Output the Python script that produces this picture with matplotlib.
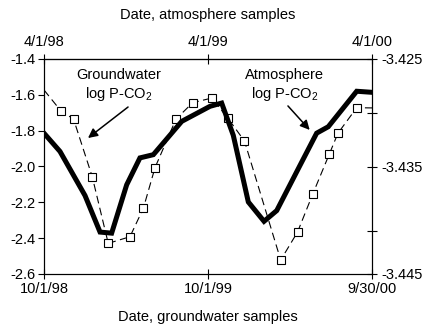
import matplotlib
matplotlib.use("Agg")
import matplotlib.pyplot as plt

plt.rcParams['font.family'] = ['Liberation Sans', 'DejaVu Sans']
plt.rcParams['mathtext.fontset'] = 'custom'
plt.rcParams['mathtext.rm'] = 'Liberation Sans'
plt.rcParams['mathtext.it'] = 'Liberation Sans:italic'

# Groundwater log P-CO2 (left axis); x = months after 10/1/98
gw_month = [0.0, 1.24, 2.16, 3.53, 4.70, 6.29, 7.27, 8.12, 9.66, 10.88, 12.27,
            13.46, 14.67, 17.32, 18.55, 19.68, 20.88, 21.51, 22.88, 24.0]
gw_value = [-1.573, -1.690, -1.735, -2.057, -2.429, -2.392, -2.233, -2.007, -1.735,
            -1.644, -1.618, -1.731, -1.858, -2.522, -2.366, -2.151, -1.930, -1.814,
            -1.672, -1.673]
gw_marked = list(range(1, len(gw_month) - 1))

# Atmosphere log P-CO2 (right axis)
at_month = [0.0, 1.17, 3.0, 4.10, 4.95, 6.05, 7.02, 8.0, 10.08, 12.15, 13.0,
            13.85, 14.95, 16.1, 17.03, 18.73, 19.95, 20.80, 22.88, 24.0]
at_value = [-3.4319, -3.4336, -3.4377, -3.4411, -3.4412, -3.4367, -3.4342, -3.4339,
            -3.4308, -3.4294, -3.4291, -3.4321, -3.4383, -3.4401, -3.4391, -3.4349,
            -3.4319, -3.4313, -3.4280, -3.4281]

bottom_ticks = [0, 12, 24]
bottom_labels = ['10/1/98', '10/1/99', '9/30/00']
top_labels = ['4/1/98', '4/1/99', '4/1/00']
left_ticks = [-1.4, -1.6, -1.8, -2.0, -2.2, -2.4, -2.6]
right_ticks = [-3.425, -3.430, -3.435, -3.441, -3.445]
right_labels = ['-3.425', '', '-3.435', '', '-3.445']

FS = 10.5
fig = plt.figure(figsize=(4.26, 3.28), dpi=100)
ax = fig.add_axes([44/426, 1-274/328, (372-44)/426, (274-59)/328])
ax.plot(gw_month, gw_value, color='black', lw=0.8, linestyle=(0, (7, 4)),
        marker='s', markevery=gw_marked, markersize=5.6, markerfacecolor='white',
        markeredgecolor='black', markeredgewidth=0.8, zorder=3)
ax.set_xlim(0, 24)
ax.set_ylim(-2.6, -1.4)
ax.set_yticks(left_ticks)
ax.set_yticklabels([f'{v:.1f}' for v in left_ticks])
ax.set_xticks(bottom_ticks)
ax.set_xticklabels(bottom_labels)
ax.tick_params(axis='y', direction='out', length=4, width=0.8, labelsize=FS, pad=2)
ax.tick_params(axis='x', direction='inout', length=7, width=0.8, labelsize=FS, pad=2.5)
ax.set_xlabel('Date, groundwater samples', fontsize=FS, labelpad=9.5)
for s in ax.spines.values():
    s.set_linewidth(0.8)

ax2 = ax.twinx()
ax2.plot(at_month, at_value, color='black', lw=3.6, solid_joinstyle='miter', zorder=4)
ax2.set_ylim(-3.445, -3.425)
ax2.set_yticks(right_ticks)
ax2.set_yticklabels(right_labels)
ax2.tick_params(axis='y', direction='inout', length=7, width=0.8, labelsize=FS, pad=3)
for s in ax2.spines.values():
    s.set_linewidth(0.8)

top = ax.secondary_xaxis('top')
top.set_xticks(bottom_ticks)
top.set_xticklabels(top_labels)
top.tick_params(axis='x', direction='inout', length=7, width=0.8, labelsize=FS, pad=4)
top.set_xlabel('Date, atmosphere samples', fontsize=FS, labelpad=11)

arrow = dict(arrowstyle='-|>', color='black', lw=1.1, mutation_scale=14,
             shrinkA=0, shrinkB=0)
ax.text(5.5, -1.548, 'Groundwater\nlog P-CO$_2$', ha='center', va='center',
        fontsize=FS, linespacing=1.3)
ax.annotate('', xy=(3.22, -1.841), xytext=(6.15, -1.668), arrowprops=arrow)
ax.text(17.6, -1.548, 'Atmosphere\nlog P-CO$_2$', ha='center', va='center',
        fontsize=FS, linespacing=1.3)
ax.annotate('', xy=(19.44, -1.796), xytext=(17.85, -1.662), arrowprops=arrow)

fig.savefig('out.png', dpi=100)
